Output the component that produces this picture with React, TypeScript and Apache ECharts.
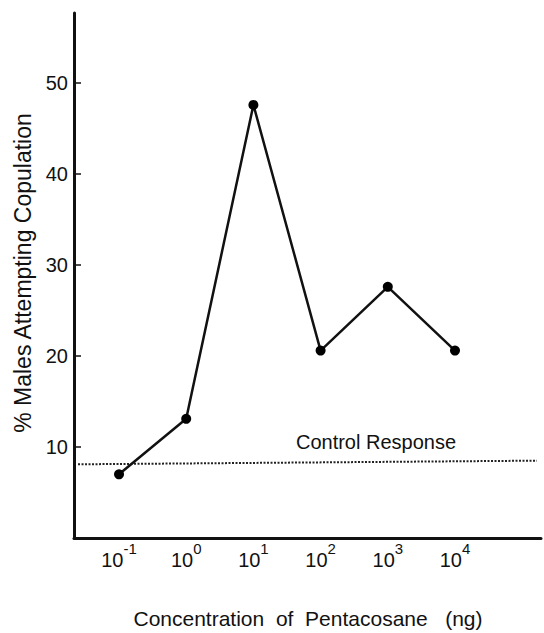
import React, { useEffect, useRef } from "react";
import * as echarts from "echarts";

const concentrationsNg = [0.1, 1, 10, 100, 1000, 10000];
const pctAttempting = [7.0, 13.1, 47.6, 20.6, 27.6, 20.6];
const xTickExponents = [-1, 0, 1, 2, 3, 4];
const yTickValues = [10, 20, 30, 40, 50];
const controlLogX = [-1.61, 5.22];
const controlPct = [8.1, 8.5];

const FONT = "'Liberation Sans', Arial, Helvetica, sans-serif";

export default function App() {
  const ref = useRef<HTMLDivElement | null>(null);

  useEffect(() => {
    if (!ref.current) return;
    const chart = echarts.init(ref.current, undefined, { renderer: "svg" });
    const mainData = concentrationsNg.map((c, i) => [Math.log10(c), pctAttempting[i]]);
    const controlData = controlLogX.map((x, i) => [x, controlPct[i]]);

    chart.setOption({
      animation: false,
      backgroundColor: "#ffffff",
      textStyle: { fontFamily: FONT },
      grid: { left: 74, right: 3, top: 13, bottom: 95, containLabel: false },
      xAxis: {
        type: "value",
        min: -1.67,
        max: 5.28,
        axisLine: { show: true, onZero: false, lineStyle: { color: "#111", width: 3 } },
        axisTick: { show: false },
        splitLine: { show: false },
        axisLabel: {
          customValues: xTickExponents,
          margin: 3,
          color: "#111",
          fontFamily: FONT,
          formatter: (v: number) => `{b|10}{s|${v}}`,
          rich: {
            b: { fontSize: 20, padding: [9, 0, 0, 0], fontFamily: FONT, color: "#111" },
            s: { fontSize: 15, verticalAlign: "top", fontFamily: FONT, color: "#111" },
          },
        },
      },
      yAxis: {
        type: "value",
        min: 0,
        max: 57.7,
        axisLine: { show: true, onZero: false, lineStyle: { color: "#111", width: 3 } },
        axisTick: {
          show: true,
          inside: true,
          length: 7,
          customValues: yTickValues,
          lineStyle: { color: "#111", width: 1.5 },
        },
        splitLine: { show: false },
        axisLabel: {
          customValues: yTickValues,
          margin: 6,
          color: "#111",
          fontSize: 20,
          fontFamily: FONT,
        },
      },
      series: [
        {
          type: "line",
          data: controlData,
          symbol: "none",
          lineStyle: { color: "#222", width: 2, type: [2, 1.5] },
          silent: true,
          z: 1,
        },
        {
          type: "line",
          data: mainData,
          symbol: "circle",
          symbolSize: 10,
          itemStyle: { color: "#000" },
          lineStyle: { color: "#111", width: 2.5 },
          z: 2,
        },
      ],
      graphic: [
        {
          type: "text",
          x: 23,
          y: 273,
          rotation: Math.PI / 2,
          style: {
            text: "% Males Attempting Copulation",
            fontSize: 23,
            fontFamily: FONT,
            fill: "#111",
            textAlign: "center",
            textVerticalAlign: "middle",
          },
        },
        {
          type: "text",
          x: 376,
          y: 442,
          style: {
            text: "Control Response",
            fontSize: 20,
            fontFamily: FONT,
            fill: "#111",
            textAlign: "center",
            textVerticalAlign: "middle",
          },
        },
        {
          type: "text",
          x: 308,
          y: 618,
          style: {
            text: "Concentration  of  Pentacosane   (ng)",
            fontSize: 21,
            fontFamily: FONT,
            fill: "#111",
            textAlign: "center",
            textVerticalAlign: "middle",
          },
        },
      ],
    });
    return () => chart.dispose();
  }, []);

  return (
    <div
      ref={ref}
      style={{ position: "fixed", left: 0, top: 0, width: 544, height: 633, background: "#fff" }}
    />
  );
}
